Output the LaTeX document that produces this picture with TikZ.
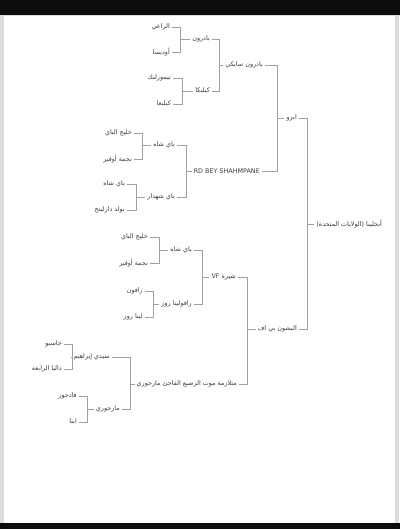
\documentclass[tikz,border=0pt]{standalone}
\usepackage{fontspec}
\setmainfont{DejaVu Sans}
\newfontfamily\arabicfont[Script=Arabic]{DejaVu Sans}
\newfontfamily\latinfont{DejaVu Sans}
\TeXXeTstate=1
\usetikzlibrary{calc}
\definecolor{namegray}{HTML}{3C3C3C}
\definecolor{linkgray}{HTML}{A0A0A0}
\definecolor{edgegray}{HTML}{DCDCDC}
\tikzset{
  horse/.style={anchor=east, inner sep=2pt, text=namegray,
    font=\fontsize{6.4}{7.5}\selectfont},
  link/.style={draw=linkgray, line width=0.8pt}
}

\begin{document}
\begin{tikzpicture}[x=1pt, y=-1pt]
\useasboundingbox (0,0) rectangle (400,529);
% frame of the screenshot
\fill[black!95] (0,0) rectangle (400,15);
\fill[black!95] (0,523) rectangle (400,529);
\fill[edgegray] (0,15) rectangle (400,16.2);
\fill[edgegray] (0,15) rectangle (4,523);
\fill[edgegray] (395,15) rectangle (399,523);

% horses
\foreach \n/\x/\y/\t in {
    r/384/224/أنجلينا (الولايات المتحدة),
    s/299/118/انزو,
    d/299/329/البشون بي اف,
    ss/265/65/بادرون سايكي,
    sss/212/39/بادرون,
    ssd/212/91/كيلبكا,
    ssss/172/27/الراعي,
    sssd/172/52/أوديسا,
    ssds/173/78/تيمورلنك,
    ssdd/173/104/كيلبغا,
    sds/177/145/باي شاه,
    sdd/177/197/باي شهدار,
    sdss/134/133/خليج الباي,
    sdsd/134/159/نجمة أوفير,
    sdds/127/184/باي شاه,
    sddd/127/210/بولد دارلينج,
    dd/239/384/متلازمة موت الرضيع الفاجئ مارجوري,
    dss/194/250/باي شاه,
    dsd/194/304/رافولينا روز,
    dsss/150/237/خليج الباي,
    dssd/150/263/نجمة أوفير,
    dsds/145/291/رافون,
    dsdd/145/317/لينا روز,
    dds/112/357/سيدي إبراهيم,
    ddd/122/409/مارجوري,
    ddss/64/344/جاسبو,
    ddsd/64/369/داليا الرابعة,
    ddds/79/396/فادجور,
    dddd/79/422/ابنا} {
    \node[horse] (\n) at (\x,\y) {\arabicfont\beginR \t\endR};
}
\node[horse] (sd) at (262,171) {\latinfont RD BEY SHAHMPANE};
\node[horse] (ds) at (238,277) {\arabicfont\beginR شيرة \beginL{\latinfont VF}\endL\endR};

% brackets: sire/dam/foal/x
\foreach \a/\b/\c/\bx in {
    s/d/r/307,
    ss/sd/s/277,
    ds/dd/d/247,
    sss/ssd/ss/219,
    ssss/sssd/sss/180,
    ssds/ssdd/ssd/182,
    sds/sdd/sd/186,
    sdss/sdsd/sds/142,
    sdds/sddd/sdd/136,
    dss/dsd/ds/202,
    dsss/dssd/dss/159,
    dsds/dsdd/dsd/153,
    dds/ddd/dd/130,
    ddss/ddsd/dds/72,
    ddds/dddd/ddd/87} {
    \coordinate (k) at (\bx,0);
    \draw[link] (\a.east) -- (\a.east -| k) -- (\b.east -| k) -- (\b.east);
    \draw[link] (\c.west -| k) -- (\c.west);
}
\end{tikzpicture}
\end{document}
